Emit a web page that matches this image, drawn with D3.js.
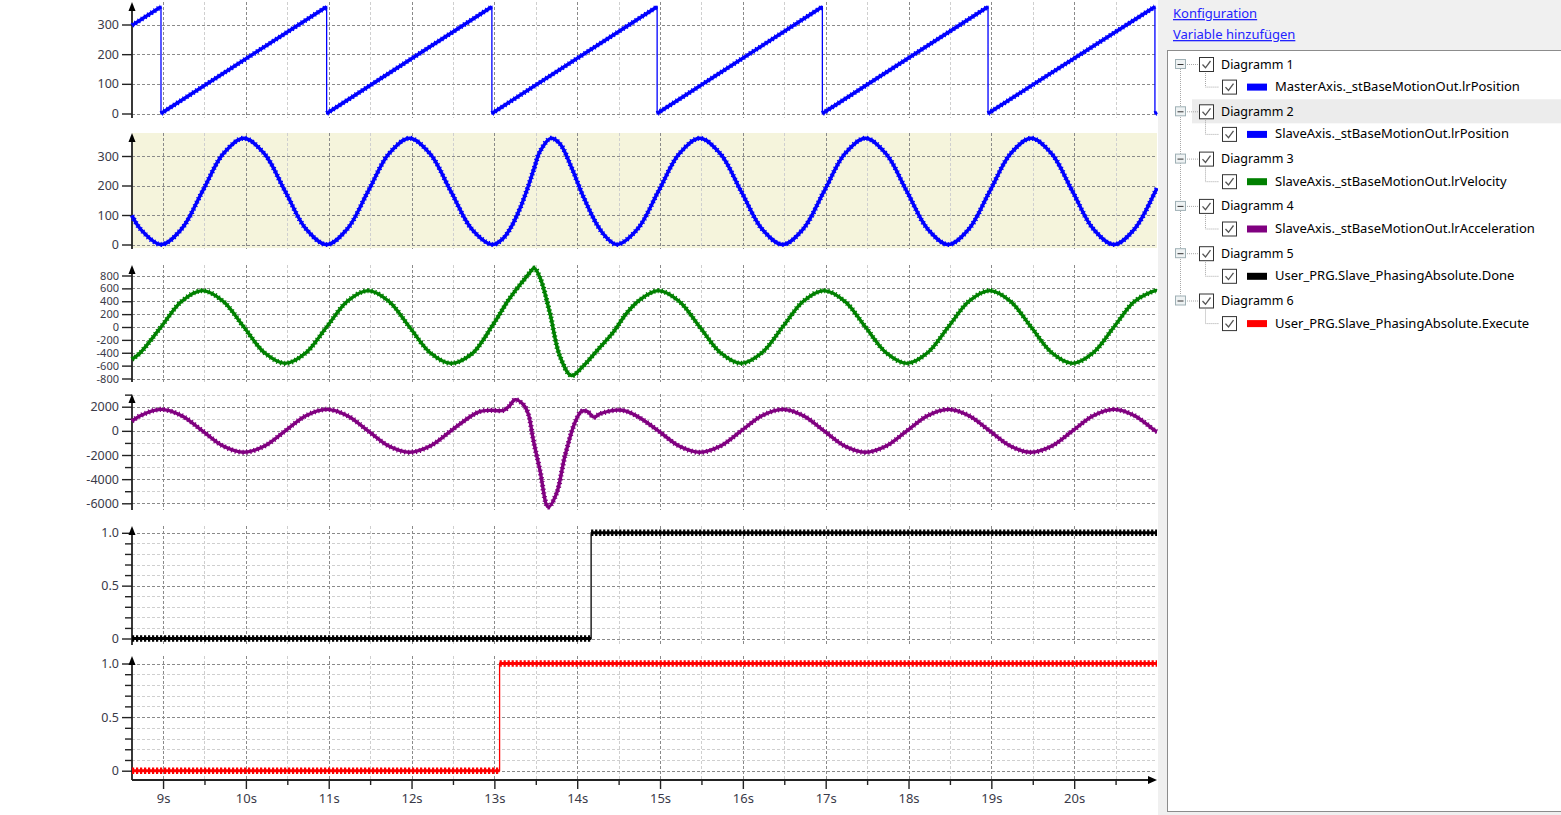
<!DOCTYPE html>
<html>
<head>
<meta charset="utf-8">
<script src="https://cdnjs.cloudflare.com/ajax/libs/d3/7.8.5/d3.min.js"></script>
<style>
  body { margin: 0; background: #fff; overflow: hidden; }
  svg { display: block; }
  text { font-family: "Noto Sans", "DejaVu Sans", sans-serif; }
</style>
</head>
<body>
<div id="chart-area"></div>
<script>
// ---- data (time in s, value) ----
const masterPos = [
  [8.625, 297], [8.975, 360], [8.975, 0], [10.975, 360], [10.975, 0],
  [12.97, 360], [12.97, 0], [14.965, 360], [14.965, 0], [16.96, 360],
  [16.96, 0], [18.96, 360], [18.96, 0], [20.975, 360], [20.975, 0], [21.0, 4]
]

const slavePos = [
  [8.625, 98], [8.725, 53], [8.975, 0], [9.225, 53], [9.475, 180], [9.725, 307], [9.975, 360],
  [10.225, 307], [10.475, 180], [10.725, 53], [10.975, 0], [11.225, 53], [11.475, 180],
  [11.725, 307], [11.975, 360], [12.225, 307], [12.475, 180], [12.725, 53], [12.975, 0],
  [13.1, 19], [13.2, 58], [13.3, 116], [13.4, 190], [13.48, 258], [13.55, 315], [13.68, 360],
  [13.79, 342], [13.93, 262], [14.07, 165], [14.25, 62], [14.38, 16], [14.48, 0],
  [14.73, 53], [14.98, 180], [15.23, 307], [15.48, 360], [15.73, 307], [15.98, 180],
  [16.23, 53], [16.48, 0], [16.73, 53], [16.98, 180], [17.23, 307], [17.48, 360],
  [17.73, 307], [17.98, 180], [18.23, 53], [18.48, 0], [18.73, 53], [18.98, 180],
  [19.23, 307], [19.48, 360], [19.73, 307], [19.98, 180], [20.23, 53], [20.48, 0],
  [20.73, 53], [20.98, 180], [21.0, 191]
]

const slaveVel = [
  [8.625, -503], [8.725, -400], [8.975, 0], [9.225, 400], [9.475, 565], [9.725, 400],
  [9.975, 0], [10.225, -400], [10.475, -565], [10.725, -400], [10.975, 0], [11.225, 400],
  [11.475, 565], [11.725, 400], [11.975, 0], [12.225, -400], [12.475, -565], [12.725, -420],
  [12.85, -230], [12.95, -30], [13.05, 170], [13.15, 380], [13.25, 560], [13.35, 720],
  [13.43, 850], [13.48, 915], [13.55, 770], [13.67, 220], [13.79, -450], [13.93, -755],
  [14.07, -610], [14.25, -350], [14.43, -90], [14.6, 220], [14.76, 425], [14.98, 565],
  [15.23, 400], [15.48, 0], [15.73, -400], [15.98, -565], [16.23, -400], [16.48, 0],
  [16.73, 400], [16.98, 565], [17.23, 400], [17.48, 0], [17.73, -400], [17.98, -565],
  [18.23, -400], [18.48, 0], [18.73, 400], [18.98, 565], [19.23, 400], [19.48, 0],
  [19.73, -400], [19.98, -565], [20.23, -400], [20.48, 0], [20.73, 400], [20.98, 565],
  [21.0, 565]
]

const slaveAcc = [
  [8.625, 807], [8.725, 1257], [8.975, 1777], [9.225, 1257], [9.475, 0], [9.725, -1257],
  [9.975, -1777], [10.225, -1257], [10.475, 0], [10.725, 1257], [10.975, 1777], [11.225, 1257],
  [11.475, 0], [11.725, -1257], [11.975, -1777], [12.225, -1257], [12.475, 0], [12.725, 1257],
  [12.83, 1610], [12.95, 1700], [13.11, 1700], [13.18, 2050], [13.25, 2580], [13.35, 2170],
  [13.41, 1400], [13.47, -750], [13.55, -3250], [13.65, -6300], [13.75, -5190], [13.85, -2140],
  [13.97, 640], [14.05, 1610], [14.12, 1610], [14.2, 1140], [14.28, 1420], [14.48, 1720],
  [14.6, 1610], [14.76, 1060], [14.98, 0], [15.23, -1257], [15.48, -1777], [15.73, -1257],
  [15.98, 0], [16.23, 1257], [16.48, 1777], [16.73, 1257], [16.98, 0], [17.23, -1257],
  [17.48, -1777], [17.73, -1257], [17.98, 0], [18.23, 1257], [18.48, 1777], [18.73, 1257],
  [18.98, 0], [19.23, -1257], [19.48, -1777], [19.73, -1257], [19.98, 0], [20.23, 1257],
  [20.48, 1777], [20.73, 1257], [20.98, 0], [21.0, -60]
]

const phasingDone = [[8.625, 0], [14.168, 0], [14.168, 1], [21.0, 1]]
const phasingExecute = [[8.625, 0], [13.063, 0], [13.063, 1], [21.0, 1]]

// ---- ticks ----
const timeTicks = [9, 10, 11, 12, 13, 14, 15, 16, 17, 18, 19, 20]
const timeMinor = [9.5, 10.5, 11.5, 12.5, 13.5, 14.5, 15.5, 16.5, 17.5, 18.5, 19.5, 20.5]
const posTicks = [0, 100, 200, 300]
const velTicks = [-800, -600, -400, -200, 0, 200, 400, 600, 800]
const accTicks = [-6000, -4000, -2000, 0, 2000]
const accMinor = [-5000, -3000, -1000, 1000, 3000]
const boolTicks = [0, 0.5, 1]
const boolMinor = [0.1, 0.2, 0.3, 0.4, 0.6, 0.7, 0.8, 0.9]

// ---- legend tree ----
const legendGroups = ["Diagramm 1", "Diagramm 2", "Diagramm 3", "Diagramm 4", "Diagramm 5", "Diagramm 6"]
const legendVars = [
  "MasterAxis._stBaseMotionOut.lrPosition",
  "SlaveAxis._stBaseMotionOut.lrPosition",
  "SlaveAxis._stBaseMotionOut.lrVelocity",
  "SlaveAxis._stBaseMotionOut.lrAcceleration",
  "User_PRG.Slave_PhasingAbsolute.Done",
  "User_PRG.Slave_PhasingAbsolute.Execute"
]
const legendColors = ["#0000ff", "#0000ff", "#008000", "#800080", "#000000", "#ff0000"]

const WIDTH = 1561
const HEIGHT = 815
const X_LEFT = 132
const X_RIGHT = 1157

const svg = d3.select("#chart-area").append("svg")
  .attr("width", WIDTH)
  .attr("height", HEIGHT)

svg.append("rect").attr("width", WIDTH).attr("height", HEIGHT).attr("fill", "#fff")

const x = d3.scaleLinear()
  .domain([8.625, 21.0])
  .range([X_LEFT, X_RIGHT])

// panel layout: two reference values and where they sit in pixels
const PANELS = [
  { top: 2, bottom: 118, v: [0, 300], px: [113.5, 24.5], major: posTicks, minor: [], data: masterPos, color: legendColors[0], kind: "step", fs: 12.5 },
  { top: 133, bottom: 249, v: [0, 300], px: [244.5, 156], major: posTicks, minor: [], data: slavePos, color: legendColors[1], kind: "curve", bg: "#f5f4dc", fs: 12.5 },
  { top: 265, bottom: 382, v: [-800, 800], px: [378.5, 275.5], major: velTicks, minor: [], data: slaveVel, color: legendColors[2], kind: "curve", fs: 11 },
  { top: 394, bottom: 510, v: [-6000, 2000], px: [503.3, 406.7], major: accTicks, minor: accMinor, data: slaveAcc, color: legendColors[3], kind: "curve", fs: 12.5 },
  { top: 526, bottom: 645, v: [0, 1], px: [638.5, 532.8], major: boolTicks, minor: boolMinor, data: phasingDone, color: legendColors[4], kind: "bool", fs: 12.5 },
  { top: 656, bottom: 780, v: [0, 1], px: [770.7, 663.5], major: boolTicks, minor: boolMinor, data: phasingExecute, color: legendColors[5], kind: "bool", fs: 12.5 }
]

// split a trace where the value jumps at one time stamp
function runs(data) {
  const out = [[data[0]]]
  for (let i = 1; i < data.length; i++) {
    if (data[i][0] === data[i - 1][0]) out.push([data[i]])
    else out[out.length - 1].push(data[i])
  }
  return out.filter(r => r.length > 1)
}

const fmt = d => d === 1 ? "1.0" : String(d)

PANELS.forEach(p => {
  const y = d3.scaleLinear().domain(p.v).range(p.px)
  const g = svg.append("g")

  if (p.bg) {
    g.append("rect")
      .attr("x", X_LEFT).attr("y", p.top)
      .attr("width", X_RIGHT - X_LEFT).attr("height", p.bottom - p.top - 1)
      .attr("fill", p.bg)
  }

  // grid
  g.selectAll(".vminor").data(timeMinor).enter().append("line")
    .attr("x1", d => Math.round(x(d)) + 0.5).attr("x2", d => Math.round(x(d)) + 0.5)
    .attr("y1", p.top).attr("y2", p.bottom)
    .attr("stroke", "#cfcfcf").attr("stroke-dasharray", "3,2")
  g.selectAll(".hminor").data(p.minor).enter().append("line")
    .attr("x1", X_LEFT).attr("x2", X_RIGHT)
    .attr("y1", d => Math.round(y(d)) + 0.5).attr("y2", d => Math.round(y(d)) + 0.5)
    .attr("stroke", "#cfcfcf").attr("stroke-dasharray", "3,2")
  g.selectAll(".vmajor").data(timeTicks).enter().append("line")
    .attr("x1", d => Math.round(x(d)) + 0.5).attr("x2", d => Math.round(x(d)) + 0.5)
    .attr("y1", p.top).attr("y2", p.bottom)
    .attr("stroke", "#8a8a8a").attr("stroke-dasharray", "3,2")
  g.selectAll(".hmajor").data(p.major).enter().append("line")
    .attr("x1", X_LEFT).attr("x2", X_RIGHT)
    .attr("y1", d => Math.round(y(d)) + 0.5).attr("y2", d => Math.round(y(d)) + 0.5)
    .attr("stroke", "#8a8a8a").attr("stroke-dasharray", "3,2")

  // y axis
  const yAxis = d3.axisLeft(y).tickValues(p.major).tickSize(10).tickPadding(3).tickFormat(fmt)
  const ya = g.append("g").attr("transform", `translate(${X_LEFT}, 0)`).call(yAxis)
  ya.select(".domain").remove()
  ya.selectAll("line").attr("stroke", "#222").attr("stroke-width", 1.4)
  ya.selectAll("text").attr("font-size", p.fs + "px").attr("fill", "#3a3a48")
  if (p.minor.length) {
    const ym = g.append("g").attr("transform", `translate(${X_LEFT}, 0)`)
      .call(d3.axisLeft(y).tickValues(p.minor).tickSize(7).tickFormat(""))
    ym.select(".domain").remove()
    ym.selectAll("line").attr("stroke", "#222").attr("stroke-width", 1.4)
  }
  g.append("line")
    .attr("x1", X_LEFT).attr("x2", X_LEFT)
    .attr("y1", p.top + 4).attr("y2", p.bottom)
    .attr("stroke", "#222").attr("stroke-width", 1.8)
  g.append("path")
    .attr("d", `M${X_LEFT},${p.top} L${X_LEFT - 3.5},${p.top + 9} L${X_LEFT + 3.5},${p.top + 9} Z`)
    .attr("fill", "#000")

  // trace
  const line = d3.line().x(d => x(d[0])).y(d => y(d[1]))
  if (p.kind === "curve") line.curve(d3.curveCatmullRom)

  g.append("path")
    .attr("d", line(p.data))
    .attr("fill", "none").attr("stroke", p.color).attr("stroke-width", 1.3)

  runs(p.data).forEach(r => {
    const w = p.kind === "bool" ? 3 : 3.4
    g.append("path")
      .attr("d", line(r))
      .attr("fill", "none").attr("stroke", p.color).attr("stroke-width", w)
    g.append("path")
      .attr("d", line(r))
      .attr("fill", "none").attr("stroke", p.color)
      .attr("stroke-width", p.kind === "bool" ? 6.5 : 5.2)
      .attr("stroke-dasharray", p.kind === "bool" ? "2.2,1.8" : "1.2,2.6")
  })
})

// X axis
const xg = svg.append("g").attr("transform", "translate(0, 780)")
const xAxisCall = d3.axisBottom(x).tickValues(timeTicks).tickSize(9).tickPadding(5).tickFormat(d => d + "s")
xg.call(xAxisCall)
xg.select(".domain").remove()
xg.selectAll("line").attr("stroke", "#222").attr("stroke-width", 1.4)
xg.selectAll("text").attr("font-size", "13px").attr("fill", "#3a3a48")
const xm = svg.append("g").attr("transform", "translate(0, 780)")
  .call(d3.axisBottom(x).tickValues(timeMinor).tickSize(5).tickFormat(""))
xm.select(".domain").remove()
xm.selectAll("line").attr("stroke", "#222").attr("stroke-width", 1.4)
svg.append("line")
  .attr("x1", X_LEFT).attr("x2", X_RIGHT - 4)
  .attr("y1", 780).attr("y2", 780)
  .attr("stroke", "#222").attr("stroke-width", 1.8)
svg.append("path")
  .attr("d", `M${X_RIGHT},780 L${X_RIGHT - 9},776 L${X_RIGHT - 9},784 Z`)
  .attr("fill", "#000")

// ---- side panel ----
const side = svg.append("g")
side.append("rect")
  .attr("x", 1158).attr("y", 0).attr("width", WIDTH - 1158).attr("height", HEIGHT)
  .attr("fill", "#f0f0f0")

const links = ["Konfiguration", "Variable hinzufügen"]
side.selectAll(".link").data(links).enter().append("text")
  .attr("x", 1173)
  .attr("y", (d, i) => 18 + i * 21)
  .attr("font-size", "13px")
  .attr("fill", "#2323ff")
  .attr("text-decoration", "underline")
  .text(d => d)

side.append("rect")
  .attr("x", 1167.5).attr("y", 50.5).attr("width", 400).attr("height", 761)
  .attr("fill", "#fff").attr("stroke", "#8c8c8c")

const ROW0 = 64
const GROUP_STEP = 47.3
const CHILD_STEP = 22.6

// selected row
side.append("rect")
  .attr("x", 1192).attr("y", ROW0 + GROUP_STEP - 12)
  .attr("width", 370).attr("height", 24)
  .attr("fill", "#ececec")

// tree connector
side.append("line")
  .attr("x1", 1180.5).attr("x2", 1180.5)
  .attr("y1", ROW0 + 5).attr("y2", ROW0 + GROUP_STEP * 5 - 5)
  .attr("stroke", "#a8a8a8").attr("stroke-dasharray", "1,1")

function checkbox(gr, cx, cy) {
  gr.append("rect")
    .attr("x", cx + 0.5).attr("y", cy - 6.5).attr("width", 14).attr("height", 14)
    .attr("fill", "#fff").attr("stroke", "#333")
  gr.append("path")
    .attr("d", `M${cx + 3.5},${cy + 0.5} L${cx + 6.5},${cy + 3.8} L${cx + 11.5},${cy - 3}`)
    .attr("fill", "none").attr("stroke", "#555").attr("stroke-width", 1.3)
}

legendGroups.forEach((name, i) => {
  const yp = ROW0 + i * GROUP_STEP
  const yc = yp + CHILD_STEP
  const gr = side.append("g")

  // expand box
  gr.append("rect")
    .attr("x", 1175.5).attr("y", yp - 4.5).attr("width", 10).attr("height", 9)
    .attr("fill", "#eef2f3").attr("stroke", "#9fb0b5")
  gr.append("line")
    .attr("x1", 1177.5).attr("x2", 1183.5).attr("y1", yp + 0.5).attr("y2", yp + 0.5)
    .attr("stroke", "#333")
  gr.append("line")
    .attr("x1", 1187).attr("x2", 1198).attr("y1", yp + 0.5).attr("y2", yp + 0.5)
    .attr("stroke", "#a8a8a8").attr("stroke-dasharray", "1,1")

  checkbox(gr, 1199, yp)
  gr.append("text")
    .attr("x", 1221).attr("y", yp + 4.5)
    .attr("font-size", "12.5px").attr("fill", "#000")
    .text(name)

  // child row
  gr.append("path")
    .attr("d", `M1205.5,${yp + 9} V${yc + 0.5} H1219`)
    .attr("fill", "none").attr("stroke", "#a8a8a8").attr("stroke-dasharray", "1,1")
  checkbox(gr, 1222, yc)
  gr.append("rect")
    .attr("x", 1247).attr("y", yc - 3).attr("width", 20).attr("height", 7)
    .attr("fill", legendColors[i])
  gr.append("text")
    .attr("x", 1275).attr("y", yc + 4.5)
    .attr("font-size", "13px").attr("fill", "#000")
    .text(legendVars[i])
})
</script>
</body>
</html>
